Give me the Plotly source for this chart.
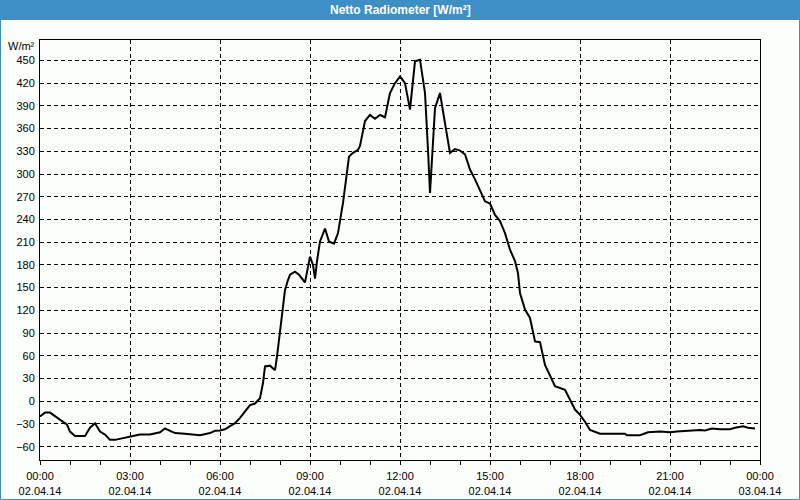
import plotly.graph_objects as go

# minutes since 02.04.14 00:00
minutes = [0, 10, 20, 34, 46, 54, 60, 70, 90, 100, 110, 120, 130, 140, 150, 160, 180, 200, 220, 240,
           250, 260, 270, 290, 310, 320, 340, 350, 360, 370, 380, 390, 400, 410, 420, 430, 440, 446, 450, 460,
           470, 474, 480, 486, 490, 496, 500, 510, 518, 530, 536, 540, 546, 550, 554, 560, 570, 578, 588, 596,
           606, 612, 618, 626, 636, 640, 650, 660, 670, 680, 690, 700, 710, 720, 730, 740, 750, 760, 770, 776,
           780, 790, 800, 810, 820, 830, 840, 850, 860, 870, 880, 890, 900, 910, 920, 930, 940, 950, 956, 960,
           970, 980, 990, 1000, 1010, 1020, 1030, 1050, 1060, 1070, 1080, 1090, 1100, 1110, 1120, 1170, 1174, 1200, 1210, 1216,
           1240, 1260, 1274, 1300, 1310, 1320, 1330, 1344, 1360, 1380, 1390, 1406, 1416, 1430]
values = [-20, -15, -15, -22, -27, -31, -40, -46, -46, -35, -29, -40, -44, -51, -51, -49.5, -46.5, -44, -44, -41,
          -36, -38.5, -42, -43, -44, -45, -42, -39, -38.5, -37, -33, -29, -22, -13.5, -5, -3, 4, 24, 46, 47,
          41, 59, 90, 121, 147, 160, 167, 171, 167, 157, 180, 191, 180, 162, 185, 211, 228, 211, 208, 222,
          262, 293, 323, 328, 332, 337, 370, 378, 373, 378, 375, 407, 420, 429, 420, 385, 449, 451, 407, 332,
          275, 387, 407, 367, 328, 333, 331, 326, 306, 293, 279, 264, 261, 246, 238, 222, 200, 185, 169, 143,
          121, 110, 79, 78, 48, 33, 20, 15, 3, -11, -18, -27, -38, -40, -43, -43, -45, -45, -43, -41,
          -40, -41, -40, -39, -38, -38, -38.5, -36, -37, -37, -35, -33, -35, -36]

x_tickvals = [0, 180, 360, 540, 720, 900, 1080, 1260, 1440]
x_ticktext = ["00:00<br>02.04.14", "03:00<br>02.04.14", "06:00<br>02.04.14", "09:00<br>02.04.14",
              "12:00<br>02.04.14", "15:00<br>02.04.14", "18:00<br>02.04.14", "21:00<br>02.04.14",
              "00:00<br>03.04.14"]
y_tickvals = list(range(-60, 451, 30))

title_text = "Netto Radiometer [W/m²]"
unit_text = "W/m²"

BG = "#fcfefc"
BLUE = "#3d8fc6"
FONT = "Liberation Sans"

fig = go.Figure()
fig.add_trace(go.Scatter(x=minutes, y=values, mode="lines",
                         line=dict(color="black", width=2), hoverinfo="skip"))

W, H = 800, 500
L, R, T, B = 40, 40, 40, 40
pw, ph = W - L - R, H - T - B

def px(xp):
    return (xp - L) / pw

def py(yp):
    return (H - B - yp) / ph

fig.update_layout(
    width=W, height=H,
    margin=dict(l=L, r=R, t=T, b=B, autoexpand=False),
    paper_bgcolor=BG, plot_bgcolor=BG,
    showlegend=False,
    font=dict(family=FONT, size=11, color="black"),
    xaxis=dict(range=[0, 1440], tickmode="array", tickvals=x_tickvals, ticktext=x_ticktext,
               automargin=False,
               showline=True, mirror=True, linecolor="black", linewidth=1,
               ticks="outside", ticklen=4, tickcolor="black", tickwidth=1,
               showgrid=True, gridcolor="black", griddash="4px,3px", gridwidth=1,
               zeroline=False, ticklabelstandoff=2,
               minor=dict(tickmode="array", tickvals=list(range(0, 1441, 60)), ticks="outside",
                          ticklen=4, tickcolor="black", showgrid=False),
               tickfont=dict(family=FONT, size=11)),
    yaxis=dict(range=[-77.6, 477], tickmode="array", tickvals=y_tickvals,
               automargin=False,
               showline=True, mirror=True, linecolor="black", linewidth=1,
               ticks="", showgrid=True, gridcolor="black", griddash="4px,3px", gridwidth=1,
               zeroline=False, ticklabelstandoff=2,
               tickfont=dict(family=FONT, size=11)),
    shapes=[
        dict(type="rect", xref="paper", yref="paper", x0=px(0), x1=px(800), y0=py(20), y1=py(0),
             fillcolor=BLUE, line=dict(width=0), layer="below"),
        dict(type="rect", xref="paper", yref="paper", x0=px(0.5), x1=px(799.5), y0=py(499.5), y1=py(0.5),
             fillcolor="rgba(0,0,0,0)", line=dict(color=BLUE, width=1)),
    ],
    annotations=[
        dict(text="<b>" + title_text + "</b>", xref="paper", yref="paper", x=px(400), y=py(10),
             xanchor="center", yanchor="middle", showarrow=False,
             font=dict(family=FONT, size=12, color="white")),
        dict(text=unit_text, xref="paper", yref="paper", x=px(37), y=py(46),
             xanchor="right", yanchor="middle", showarrow=False,
             font=dict(family=FONT, size=11, color="black")),
    ],
)

fig.write_html("out.html")
